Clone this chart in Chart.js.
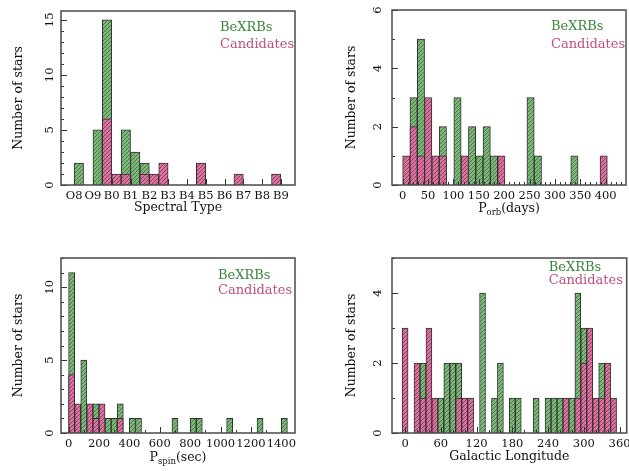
<!DOCTYPE html>
<html><head><meta charset="utf-8">
<script src="https://cdn.jsdelivr.net/npm/chart.js@4/dist/chart.umd.min.js"></script>
<style>
html,body{margin:0;padding:0;background:#fff;width:629px;height:471px;overflow:hidden;position:relative;}
canvas{position:absolute;}
</style></head><body>
<canvas id="c1" width="320" height="230" style="left:0;top:0"></canvas>
<canvas id="c2" width="330" height="230" style="left:320px;top:0"></canvas>
<canvas id="c3" width="320" height="241" style="left:0;top:230px"></canvas>
<canvas id="c4" width="330" height="241" style="left:320px;top:230px"></canvas>
<script>
// ---- Panel 1: spectral type (O8 = 0 ... B9 = 11), half-subtype bins ----
const specLabels = ['O8','O9','B0','B1','B2','B3','B4','B5','B6','B7','B8','B9'];
const specBins = [0.25,0.75,1.25,1.75,2.25,2.75,3.25,3.75,4.25,4.75,5.25,5.75,6.25,6.75,7.25,7.75,8.25,8.75,9.25,9.75,10.25,10.75];
const specBeXRB = [2,0,5,15,0,5,3,2,0,0,0,0,0,0,0,0,0,0,0,0,0,0];
const specCand  = [0,0,0,6,1,1,0,1,1,2,0,0,0,2,0,0,0,1,0,0,0,1];

// ---- Panel 2: orbital period (days) ----
const orbTicks = [0,50,100,150,200,250,300,350,400];
const orbBins = [7.2,21.6,36,50.4,64.8,79.2,93.6,108,122.4,136.8,151.2,165.6,180,194.4,208.8,223.2,237.6,252,266.4,280.8,295.2,309.6,324,338.4,352.8,367.2,381.6,396];
const orbBeXRB = [0,3,5,0,0,2,0,3,0,2,1,2,1,0,0,0,0,3,1,0,0,0,0,1,0,0,0,0];
const orbCand  = [1,2,1,3,1,1,0,0,1,0,0,0,0,1,0,0,0,0,0,0,0,0,0,0,0,0,0,1];

// ---- Panel 3: spin period (sec) ----
const spinTicks = [0,200,400,600,800,1000,1200,1400];
const spinBins = [20,60,100,140,180,220,260,300,340,380,420,460,500,540,580,620,660,700,740,780,820,860,900,940,980,1020,1060,1100,1140,1180,1220,1260,1300,1340,1380,1420];
const spinBeXRB = [11,0,5,0,2,0,1,1,2,0,1,1,0,0,0,0,0,1,0,0,1,1,0,0,0,0,1,0,0,0,0,1,0,0,0,1];
const spinCand  = [4,2,0,2,1,2,0,0,1,0,0,0,0,0,0,0,0,0,0,0,0,0,0,0,0,0,0,0,0,0,0,0,0,0,0,0];

// ---- Panel 4: galactic longitude (deg) ----
const galTicks = [0,60,120,180,240,300,360];
const galBins = [0,10,20,30,40,50,60,70,80,90,100,110,120,130,140,150,160,170,180,190,200,210,220,230,240,250,260,270,280,290,300,310,320,330,340,350];
const galBeXRB = [0,0,0,2,0,0,1,2,2,2,0,0,0,4,0,1,2,0,1,1,0,0,1,0,1,1,1,0,1,4,3,0,0,2,0,0];
const galCand  = [3,0,2,1,3,1,0,0,0,1,1,1,0,0,0,0,0,0,0,0,0,0,0,0,0,0,0,1,0,1,2,3,1,1,2,1];

const FONT = '"DejaVu Serif", serif';
const GREEN_TXT = '#3b873b', PINK_TXT = '#c04f7c';

function hatch(base, line) {
  const c = document.createElement('canvas'); c.width = 4; c.height = 4;
  const g = c.getContext('2d');
  g.fillStyle = base; g.fillRect(0, 0, 4, 4);
  g.strokeStyle = line; g.lineWidth = 1;
  g.beginPath();
  g.moveTo(-1, 5); g.lineTo(5, -1);
  g.moveTo(-1, 1); g.lineTo(1, -1);
  g.moveTo(3, 5); g.lineTo(5, 3);
  g.stroke();
  return g.createPattern(c, 'repeat');
}
const greenPat = hatch('rgb(128,182,122)', 'rgb(62,125,66)');
const pinkPat = hatch('rgb(214,118,158)', 'rgb(160,52,100)');

function framePlugin(cfg) {
  return {
    id: 'frame',
    afterDraw(chart) {
      const ctx = chart.ctx, a = chart.chartArea;
      const xs = chart.scales.x, ys = chart.scales.y;
      ctx.save();
      // inward ticks
      ctx.strokeStyle = '#333'; ctx.lineWidth = 1;
      ctx.beginPath();
      for (const v of cfg.xMinor) {
        const p = Math.round(xs.getPixelForValue(v)) + 0.5;
        const len = cfg.xMajor.includes(v) ? 6 : 3;
        ctx.moveTo(p, a.bottom); ctx.lineTo(p, a.bottom - len);
      }
      for (let v = 0; v <= cfg.ymax + 1e-9; v += cfg.yMinor) {
        const p = Math.round(ys.getPixelForValue(v)) + 0.5;
        const len = (Math.abs(v / cfg.yMajor - Math.round(v / cfg.yMajor)) < 1e-6) ? 6 : 3;
        ctx.moveTo(a.left, p); ctx.lineTo(a.left + len, p);
      }
      ctx.stroke();
      // frame
      ctx.strokeStyle = '#4a4a4a'; ctx.lineWidth = 1.5;
      ctx.strokeRect(a.left, a.top, a.right - a.left, a.bottom - a.top);
      // y tick labels (rotated)
      ctx.fillStyle = '#111';
      ctx.font = '11.5px ' + FONT;
      ctx.textAlign = 'center'; ctx.textBaseline = 'middle';
      for (let v = 0; v <= cfg.ymax + 1e-9; v += cfg.yMajor) {
        const p = ys.getPixelForValue(v);
        ctx.save(); ctx.translate(a.left - cfg.yLabOff, p); ctx.rotate(-Math.PI / 2);
        ctx.fillText(String(v), 0, 0); ctx.restore();
      }
      // y title
      ctx.font = '12.5px ' + FONT;
      ctx.save(); ctx.translate(a.left - cfg.yTitleOff, (a.top + a.bottom) / 2); ctx.rotate(-Math.PI / 2);
      ctx.fillText('Number of stars', 0, 0); ctx.restore();
      // x title (with optional subscript)
      const parts = cfg.xTitle;
      const fonts = parts.map(p => (p.sub ? '8.5px ' : '12.5px ') + FONT);
      let tw = 0;
      parts.forEach((p, i) => { ctx.font = fonts[i]; tw += ctx.measureText(p.t).width; });
      let x = (a.left + a.right) / 2 - tw / 2;
      ctx.textAlign = 'left';
      const ty = a.bottom + cfg.xTitleOff;
      parts.forEach((p, i) => {
        ctx.font = fonts[i];
        ctx.fillText(p.t, x, p.sub ? ty + 4 : ty);
        x += ctx.measureText(p.t).width;
      });
      // legend text
      ctx.font = '13px ' + FONT;
      ctx.fillStyle = GREEN_TXT;
      ctx.fillText('BeXRBs', a.right - cfg.legX, a.top + cfg.legY[0]);
      ctx.fillStyle = PINK_TXT;
      ctx.fillText('Candidates', a.right - cfg.legX, a.top + cfg.legY[1]);
      ctx.restore();
    }
  };
}

function makePanel(id, cfg) {
  const el = document.getElementById(id);
  const W = el.width, H = el.height, box = cfg.box;
  const common = { grouped: false, barPercentage: 1, categoryPercentage: 1, borderWidth: 1, borderColor: '#303030', borderSkipped: 'start' };
  new Chart(el, {
    type: 'bar',
    data: {
      datasets: [
        Object.assign({ label: 'Candidates', order: 0, backgroundColor: pinkPat,
          data: cfg.bins.map((x, i) => ({ x: x, y: cfg.cand[i] || null })) }, common),
        Object.assign({ label: 'BeXRBs', order: 1, backgroundColor: greenPat,
          data: cfg.bins.map((x, i) => ({ x: x, y: cfg.bex[i] || null })) }, common)
      ]
    },
    options: {
      responsive: false, animation: false, devicePixelRatio: 1,
      layout: { padding: { left: box[0], top: box[1], right: W - box[2], bottom: 0 } },
      plugins: { legend: { display: false }, tooltip: { enabled: false } },
      scales: {
        x: {
          type: 'linear', min: cfg.xmin, max: cfg.xmax, offset: false,
          grid: { display: false, drawTicks: false }, border: { display: false },
          afterBuildTicks: s => { s.ticks = cfg.xMajor.map(v => ({ value: v })); },
          afterFit: s => { s.height = H - box[3]; },
          ticks: { autoSkip: false, maxRotation: 0, minRotation: 0, padding: 4, color: '#111',
                   font: { family: FONT, size: 11.5 }, callback: cfg.xfmt }
        },
        y: { display: false, min: 0, max: cfg.ymax }
      }
    },
    plugins: [framePlugin(cfg)]
  });
}

makePanel('c1', {
  box: [61, 11, 295, 185], bins: specBins, bex: specBeXRB, cand: specCand,
  xmin: -0.7, xmax: 11.75, xMajor: specLabels.map((_, i) => i), xMinor: specLabels.map((_, i) => i),
  xfmt: v => specLabels[Math.round(v)] || '',
  ymax: 15.8, yMajor: 5, yMinor: 1, yLabOff: 11, yTitleOff: 42,
  xTitle: [{ t: 'Spectral Type' }], xTitleOff: 23, legX: 75, legY: [17, 34]
});
makePanel('c2', {
  box: [72, 10, 306, 185], bins: orbBins, bex: orbBeXRB, cand: orbCand,
  xmin: -21, xmax: 440, xMajor: orbTicks, xMinor: [0,10,20,30,40,50,60,70,80,90,100,110,120,130,140,150,160,170,180,190,200,210,220,230,240,250,260,270,280,290,300,310,320,330,340,350,360,370,380,390,400,410,420,430],
  xfmt: v => String(v),
  ymax: 6, yMajor: 2, yMinor: 1, yLabOff: 14, yTitleOff: 40,
  xTitle: [{ t: 'P' }, { t: 'orb', sub: true }, { t: '(days)' }], xTitleOff: 24, legX: 75, legY: [17, 35]
});
makePanel('c3', {
  box: [61, 28, 295, 203], bins: spinBins, bex: spinBeXRB, cand: spinCand,
  xmin: -50, xmax: 1490, xMajor: spinTicks, xMinor: [0,100,200,300,400,500,600,700,800,900,1000,1100,1200,1300,1400],
  xfmt: v => String(v),
  ymax: 12, yMajor: 5, yMinor: 1, yLabOff: 11, yTitleOff: 42,
  xTitle: [{ t: 'P' }, { t: 'spin', sub: true }, { t: '(sec)' }], xTitleOff: 25, legX: 77, legY: [18, 33]
});
makePanel('c4', {
  box: [72, 28, 306.7, 203], bins: galBins, bex: galBeXRB, cand: galCand,
  xmin: -22, xmax: 372, xMajor: galTicks, xMinor: [0,20,40,60,80,100,120,140,160,180,200,220,240,260,280,300,320,340,360],
  xfmt: v => String(v),
  ymax: 5, yMajor: 2, yMinor: 1, yLabOff: 14, yTitleOff: 40,
  xTitle: [{ t: 'Galactic Longitude' }], xTitleOff: 24, legX: 78, legY: [10, 23]
});
</script>
</body></html>
